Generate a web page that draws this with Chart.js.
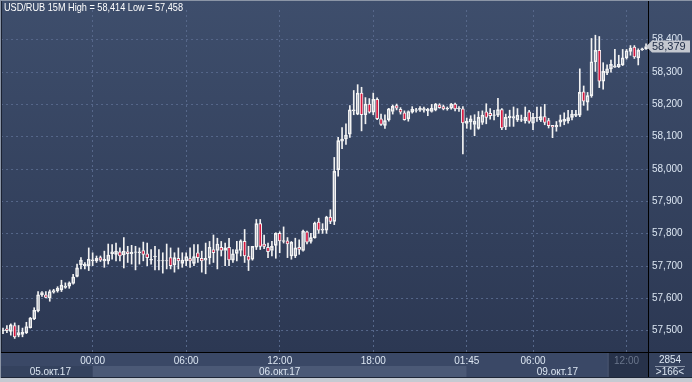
<!DOCTYPE html>
<html><head><meta charset="utf-8">
<script src="https://cdn.jsdelivr.net/npm/chart.js@4.4.1/dist/chart.umd.min.js"></script>
<style>html,body{margin:0;padding:0;background:#2f3c58;overflow:hidden}canvas{display:block}</style>
</head><body><canvas id="c" width="692" height="382"></canvas>
<script>
// ---- data (USD/RUB, 15-minute candles) ----
const opens = [
57500,57506,57498,57516,57486,57488,57494,57509,57536,57561,
57611,57611,57601,57619,57623,57626,57634,57638,57646,57668,
57704,57701,57701,57716,57716,57726,57716,57716,57738,57736,
57744,57734,57744,57738,57742,57741,57748,57738,57718,57728,
57716,57716,57716,57726,57704,57724,57708,57716,57723,57708,
57741,57724,57718,57726,57751,57748,57758,57748,57758,57718,
57739,57748,57776,57731,57721,57758,57831,57768,57758,57748,
57764,57801,57776,57778,57731,57731,57758,57748,57806,57776,
57788,57836,57811,57811,57851,57838,57998,58086,58093,58108,
58180,58170,58235,58168,58201,58176,58216,58155,58135,58152,
58178,58196,58185,58174,58155,58176,58181,58182,58182,58180,
58178,58183,58199,58193,58186,58188,58201,58186,58186,58141,
58146,58138,58126,58144,58177,58172,58166,58167,58184,58130,
58159,58157,58152,58151,58150,58177,58142,58158,58152,58162,
58150,58135,58130,58145,58147,58150,58160,58166,58167,58239,
58207,58227,58332,58367,58272,58297,58310,58315,58317,58322,
58344,58364,58377,58344,58369,58372];
const highs = [
57508,57516,57521,57524,57516,57508,57526,57541,57571,57621,
57621,57621,57626,57628,57636,57656,57648,57651,57674,57706,
57726,57711,57756,57741,57731,57731,57746,57768,57766,57771,
57756,57788,57761,57764,57761,57756,57774,57771,57751,57761,
57751,57741,57768,57756,57741,57756,57741,57741,57756,57766,
57766,57746,57771,57776,57796,57786,57776,57771,57786,57751,
57776,57781,57813,57761,57761,57844,57844,57796,57771,57776,
57803,57806,57821,57788,57776,57786,57781,57811,57808,57801,
57836,57848,57831,57854,57874,58036,58098,58128,58140,58196,
58243,58261,58253,58221,58218,58235,58220,58170,58168,58188,
58198,58201,58190,58180,58180,58193,58188,58193,58192,58188,
58200,58203,58202,58198,58192,58203,58204,58193,58193,58158,
58165,58168,58178,58180,58202,58187,58182,58219,58187,58170,
58182,58192,58187,58167,58192,58182,58172,58192,58192,58200,
58157,58135,58147,58167,58174,58182,58182,58182,58310,58257,
58237,58404,58414,58410,58329,58322,58337,58370,58352,58370,
58370,58382,58382,58372,58374,58387];
const lows = [
57491,57494,57486,57476,57481,57481,57491,57508,57534,57558,
57606,57601,57591,57616,57619,57621,57631,57631,57644,57666,
57691,57691,57686,57701,57711,57714,57696,57706,57721,57716,
57716,57694,57711,57706,57688,57706,57716,57701,57706,57688,
57688,57678,57691,57691,57681,57691,57696,57701,57696,57701,
57711,57681,57676,57706,57711,57691,57731,57701,57701,57711,
57716,57731,57711,57686,57718,57751,57751,57754,57726,57731,
57724,57741,57771,57726,57721,57726,57736,57746,57768,57771,
57786,57801,57801,57801,57831,57828,57978,58063,58076,58098,
58168,58168,58118,58140,58173,58168,58153,58135,58126,58148,
58170,58183,58170,58151,58148,58173,58176,58178,58176,58165,
58176,58180,58188,58183,58182,58185,58180,58178,58047,58126,
58123,58103,58123,58138,58140,58154,58152,58162,58122,58122,
58132,58132,58147,58147,58142,58142,58122,58147,58147,58137,
58127,58097,58117,58132,58137,58142,58152,58162,58162,58197,
58182,58222,58302,58252,58247,58292,58300,58314,58314,58320,
58340,58352,58342,58322,58367,58370];
const closes = [
57502,57500,57518,57481,57494,57496,57513,57539,57563,57611,
57618,57603,57621,57624,57631,57641,57638,57648,57666,57694,
57718,57706,57721,57719,57724,57718,57721,57734,57744,57746,
57731,57746,57738,57742,57744,57744,57736,57726,57721,57731,
57717,57717,57717,57701,57726,57716,57718,57729,57716,57729,
57726,57716,57724,57758,57741,57768,57748,57756,57719,57738,
57751,57778,57731,57718,57761,57831,57761,57761,57744,57761,
57801,57778,57779,57768,57773,57756,57751,57808,57774,57788,
57833,57811,57814,57851,57838,57993,58088,58093,58105,58183,
58183,58235,58168,58201,58176,58216,58156,58138,58150,58186,
58194,58188,58176,58153,58178,58185,58183,58188,58187,58185,
58188,58201,58190,58186,58188,58201,58186,58188,58143,58148,
58155,58148,58160,58167,58160,58165,58168,58184,58127,58160,
58164,58162,58167,58153,58160,58147,58160,58160,58162,58144,
58134,58130,58135,58152,58154,58159,58170,58170,58237,58210,
58227,58332,58367,58272,58302,58310,58324,58319,58324,58344,
58366,58374,58347,58367,58372,58379];

const timeTickIndex = [23, 47, 71, 95, 119, 136, 160];
const timeTickText  = ['00:00','06:00','12:00','18:00','01:45','06:00','12:00'];
const dateText       = ['05.окт.17','06.окт.17','09.окт.17'];
const dateStartIndex = [0, 23, 119];
const titleText = 'USD/RUB 15M High = 58,414 Low = 57,458';
const lastPrice = 58379;
const infoTop = '2854';
const infoBottom = '>166<';
const yMin = 57434, yMax = 58492, yStep = 100;

// ---- derived tables for the library ----
const labels = opens.map((_, i) => i);
const bodyData  = opens.map((o, i) => [o, closes[i]]);
const upperWick = opens.map((o, i) => [Math.max(o, closes[i]), highs[i]]);
const lowerWick = opens.map((o, i) => [lows[i], Math.min(o, closes[i])]);
const tickMap = {};
timeTickIndex.forEach((k, j) => tickMap[k] = timeTickText[j]);
const fmt = v => v.toLocaleString('en-US');

const FONT = "'Liberation Sans', Arial, sans-serif";
Chart.defaults.font.family = FONT;

const decor = {
  id: 'decor',
  beforeDraw(chart) {
    const {ctx, chartArea: a, scales: {x}} = chart;
    const W = chart.width;
    ctx.save();
    const g = ctx.createLinearGradient(0, 0, 0, a.bottom);
    g.addColorStop(0, '#3e4e6c');
    g.addColorStop(1, '#2c3853');
    ctx.fillStyle = g;
    ctx.fillRect(0, 0, W, a.bottom);
    ctx.fillStyle = '#3a4866';
    ctx.fillRect(0, a.bottom, W, 14);
    const edges = dateStartIndex.map((k, j) => j === 0 ? 0 : x.getPixelForValue(k));
    edges.push(a.right);
    const bandCol = ['#34425e', '#4b5976', '#3a4866'];
    for (let j = 0; j < dateText.length; j++) {
      ctx.fillStyle = bandCol[j];
      ctx.fillRect(edges[j], a.bottom + 14, edges[j + 1] - edges[j], 11);
    }
    const px = x.getPixelForValue(timeTickIndex[timeTickIndex.length - 1]);
    ctx.fillStyle = '#27324a';
    ctx.fillRect(px - 18, a.bottom + 1, a.right - (px - 18), 25);
    ctx.fillStyle = '#4a5670';
    ctx.fillRect(px - 19, a.bottom + 1, 1, 25);
    ctx.fillStyle = '#34415d';
    ctx.fillRect(a.right, a.bottom, W - a.right, 25);
    ctx.fillStyle = '#1e2637';
    ctx.fillRect(0, 377, W, 1);
    ctx.fillStyle = '#c5cad2';
    ctx.fillRect(0, 378, W, 4);
    ctx.restore();
  },
  afterDraw(chart) {
    const {ctx, chartArea: a, scales: {x, y}} = chart;
    const W = chart.width;
    ctx.save();
    ctx.fillStyle = '#000';
    ctx.fillRect(0, a.bottom, W, 1);
    ctx.fillRect(a.right, 0, 1, 377);
    ctx.font = '10px ' + FONT;
    ctx.fillStyle = '#dce6f2';
    ctx.textAlign = 'center';
    ctx.textBaseline = 'middle';
    const edges = dateStartIndex.map((k, j) => j === 0 ? 0 : x.getPixelForValue(k));
    edges.push(a.right);
    for (let j = 0; j < dateText.length; j++) {
      ctx.fillText(dateText[j], (edges[j] + edges[j + 1]) / 2 + (j === 0 ? 4 : 0), a.bottom + 20);
    }
    const cx = (a.right + W) / 2;
    ctx.fillText(infoTop, cx, a.bottom + 8);
    ctx.fillText(infoBottom, cx, a.bottom + 20);
    ctx.fillStyle = '#8a94a8';
    ctx.fillRect(a.right + 7, a.bottom + 14, W - a.right - 14, 1);
    // last price box
    const py = y.getPixelForValue(lastPrice);
    ctx.fillStyle = '#c4c8d0';
    ctx.beginPath();
    ctx.moveTo(a.right - 2, py);
    ctx.lineTo(a.right + 4, py - 6);
    ctx.lineTo(W - 2, py - 6);
    ctx.lineTo(W - 2, py + 6);
    ctx.lineTo(a.right + 4, py + 6);
    ctx.closePath();
    ctx.fill();
    ctx.fillStyle = '#1c2a44';
    ctx.textAlign = 'left';
    ctx.font = '11px ' + FONT;
    ctx.fillText(fmt(lastPrice), a.right + 4, py + 0.5);
    // title, condensed to the reference's width
    ctx.fillStyle = '#ffffff';
    ctx.font = '11px ' + FONT;
    const tw = ctx.measureText(titleText).width;
    ctx.save();
    ctx.translate(4, 8);
    ctx.scale(179 / tw, 1);
    ctx.fillText(titleText, 0, 0);
    ctx.restore();
    // outer frame
    ctx.fillStyle = '#8b95a6';
    ctx.fillRect(0, 0, 1, 378);
    ctx.fillRect(0, 0, W, 1);
    ctx.fillStyle = '#1b2232';
    ctx.fillRect(1, 1, 1, 351);
    ctx.restore();
  }
};

new Chart(document.getElementById('c'), {
  type: 'bar',
  data: {
    labels,
    datasets: [
      { data: upperWick, grouped: false, barThickness: 1, backgroundColor: '#f2f2f2', borderWidth: 0, order: 2 },
      { data: lowerWick, grouped: false, barThickness: 1, backgroundColor: '#f2f2f2', borderWidth: 0, order: 2 },
      { data: bodyData, grouped: false, barThickness: 3,
        backgroundColor: c => closes[c.dataIndex] < opens[c.dataIndex] ? '#d8173f' : 'rgba(0,0,0,0)',
        borderColor: '#f4f4f4', borderWidth: 1, borderSkipped: false, order: 1 }
    ]
  },
  options: {
    responsive: false,
    animation: false,
    devicePixelRatio: 1,
    layout: { padding: 0 },
    plugins: { legend: { display: false }, tooltip: { enabled: false }, title: { display: false } },
    scales: {
      x: {
        offset: true,
        afterFit: s => { s.height = 30; },
        grid: {
          offset: false, drawTicks: false,
          color: c => (tickMap[c.index] !== undefined ? '#56678a' : 'rgba(0,0,0,0)')
        },
        border: { display: false, dash: [2, 3] },
        ticks: {
          autoSkip: false, maxRotation: 0, padding: 3,
          font: { size: 10 },
          color: c => (c.index === timeTickIndex[timeTickIndex.length - 1] ? '#6a768c' : '#dce6f2'),
          callback: (v, i) => tickMap[i] !== undefined ? tickMap[i] : ''
        }
      },
      y: {
        position: 'right',
        min: yMin, max: yMax,
        afterFit: s => { s.width = 44; },
        grid: { drawTicks: false, color: '#56678a' },
        border: { display: false, dash: [2, 3] },
        ticks: {
          stepSize: yStep, includeBounds: false, padding: 4,
          font: { size: 10 }, color: '#dce6f2',
          callback: v => fmt(v)
        }
      }
    }
  },
  plugins: [decor]
});
</script>
</body></html>
